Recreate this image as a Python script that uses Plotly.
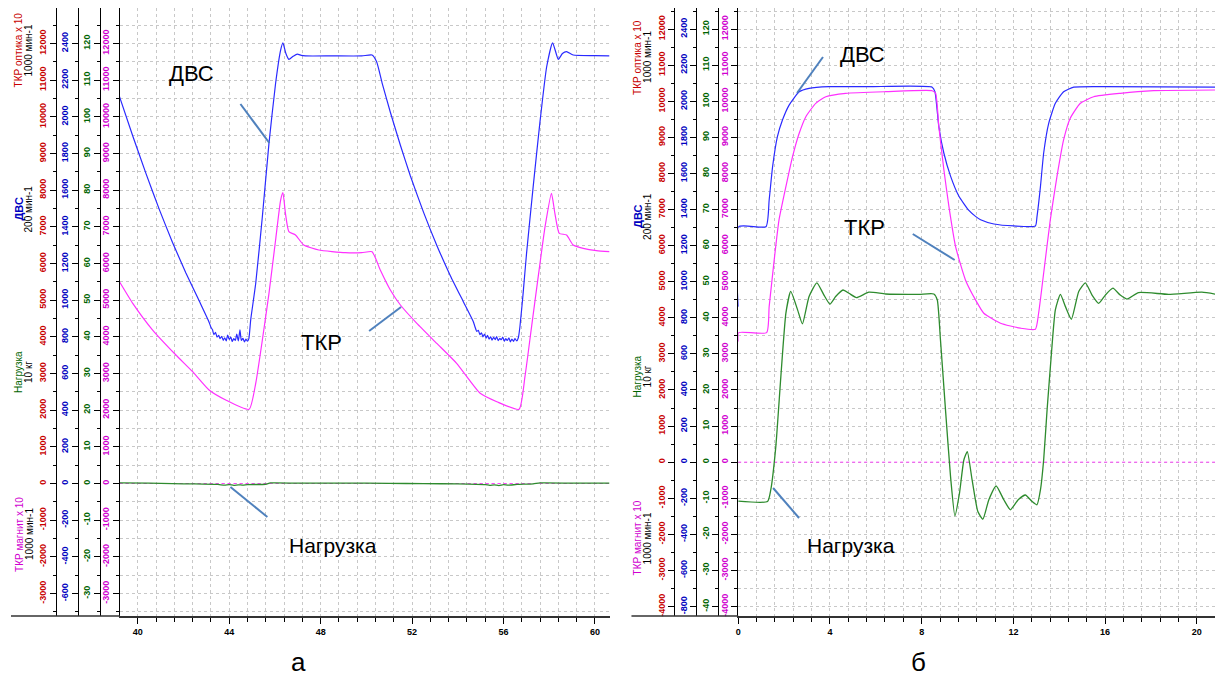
import plotly.graph_objects as go

# ---------------- data: panel "а" (time, s) ----------------
a_dvs_t = [39.2, 39.78, 40.36, 40.94, 41.52, 42.1, 42.69, 43.12, 43.2, 43.27, 43.33, 43.4, 43.47, 43.54,
           43.6, 43.67, 43.74, 43.8, 43.87, 43.93, 44.0, 44.07, 44.13, 44.2, 44.27, 44.33, 44.4, 44.47,
           44.53, 44.6, 44.67, 44.73, 44.8, 44.86, 44.94, 45.16, 45.45, 45.74, 46.03, 46.25, 46.35, 46.48,
           46.61, 46.8, 46.98, 47.15, 47.34, 48.5, 49.8, 50.25, 50.45, 50.7, 51.05, 51.49, 51.92, 52.5,
           53.08, 53.67, 54.25, 54.69, 54.76, 54.83, 54.9, 54.97, 55.04, 55.1, 55.17, 55.24, 55.3, 55.37,
           55.44, 55.5, 55.57, 55.64, 55.7, 55.77, 55.84, 55.9, 55.97, 56.04, 56.1, 56.17, 56.24, 56.3,
           56.37, 56.44, 56.5, 56.58, 56.65, 56.72, 56.86, 57.01, 57.3, 57.59, 57.89, 58.15, 58.4, 58.58,
           58.76, 59.05, 60.0, 60.64]
a_dvs_v = [2110, 1895, 1690, 1495, 1315, 1150, 995, 880, 852, 838, 812, 825, 798, 808,
           790, 803, 781, 795, 778, 810, 786, 799, 775, 790, 781, 815, 778, 838,
           780, 792, 772, 787, 776, 790, 892, 1092, 1455, 1855, 2183, 2364, 2404, 2345,
           2313, 2330, 2342, 2335, 2332, 2332, 2332, 2337, 2300, 2180, 2025, 1845, 1680, 1480,
           1300, 1135, 990, 880, 852, 830, 835, 812, 822, 800, 815, 793, 808, 788,
           800, 782, 797, 785, 801, 779, 792, 784, 798, 776, 790, 780, 795, 772,
           788, 775, 790, 778, 795, 855, 1037, 1255, 1619, 1964, 2273, 2404, 2313, 2345,
           2355, 2337, 2334, 2332]

a_tkr_t = [39.2, 39.78, 40.65, 41.67, 42.4, 43.12, 43.85, 44.87, 45.16, 45.45, 45.74, 46.03, 46.25,
           46.35, 46.46, 46.61, 46.9, 47.26, 47.92, 49.08, 49.8, 50.25, 50.61, 51.05, 51.49, 52.21,
           53.08, 53.95, 54.98, 55.71, 56.68, 56.94, 57.23, 57.52, 57.82, 58.1, 58.25, 58.44, 58.76,
           59.05, 59.49, 60.07, 60.64]
a_tkr_v = [5503, 4914, 4186, 3504, 3049, 2550, 2277, 2023, 2732, 3913, 5187, 6640, 7731,
           7930, 7368, 6867, 6777, 6504, 6368, 6294, 6294, 6322, 5822, 5277, 4868, 4368,
           3823, 3278, 2460, 2231, 2023, 2913, 4276, 5640, 7003, 7913, 7368, 6823, 6777,
           6504, 6413, 6349, 6322]

a_load_t = [39.2, 40.5, 41.5, 42.5, 43.5, 43.8, 44.0, 44.2, 44.4, 44.6, 44.8, 45.6, 45.8, 47.0, 49.0,
            51.0, 52.5, 54.0, 55.2, 55.4, 55.6, 55.8, 56.0, 56.2, 56.6, 57.3, 57.6, 59.0, 60.64]
a_load_v = [0.15, 0.1, -0.05, -0.1, -0.25, -0.45, -0.3, -0.5, -0.35, -0.45, -0.3, -0.2, 0.15, 0.1, 0.1,
            0.05, -0.05, -0.1, -0.3, -0.5, -0.35, -0.55, -0.3, -0.45, -0.25, -0.1, 0.15, 0.1, 0.1]

a_mag_t = [39.2, 60.64]
a_mag_v = [0, 0]

# ---------------- data: panel "б" (time, s) ----------------
b_dvs_t = [0.0, 0.02, 1.21, 1.35, 1.5, 1.71, 1.93, 2.22, 2.66, 3.09, 3.96, 5.7, 8.46, 8.58, 8.75, 8.97,
           9.26, 9.62, 10.06, 10.35, 10.57, 11.15, 12.02, 12.96, 13.03, 13.18, 13.32, 13.54, 13.83,
           14.19, 14.63, 15.93, 20.87]
b_dvs_v = [862, 1305, 1305, 1453, 1638, 1804, 1896, 1979, 2053, 2072, 2081, 2081, 2078, 2053, 1859, 1712,
           1585, 1475, 1395, 1362, 1343, 1320, 1309, 1309, 1361, 1527, 1712, 1878, 1989,
           2053, 2078, 2081, 2078]

b_tkr_t = [0.0, 0.02, 1.24, 1.35, 1.57, 1.78, 2.08, 2.37, 2.66, 2.95, 3.38, 3.82, 4.69, 6.43, 8.46,
           8.61, 8.75, 8.97, 9.19, 9.48, 9.91, 10.35, 10.71, 11.44, 12.31, 12.96, 13.1, 13.32, 13.61,
           13.9, 14.19, 14.48, 14.92, 15.5, 16.66, 18.11, 20.87]
b_tkr_v = [3341, 3590, 3590, 4310, 5604, 6712, 7634, 8465, 9113, 9573, 9944, 10127, 10221, 10265, 10293,
           10221, 9296, 8097, 7080, 5972, 5050, 4496, 4127, 3850, 3712, 3684, 4127, 5235, 6712,
           7911, 8928, 9529, 9944, 10127, 10221, 10293, 10313]

b_load_t = [0.0, 1.28, 1.42, 1.64, 1.86, 2.08, 2.29, 2.59, 2.8, 3.09, 3.43, 3.74, 4.0, 4.25, 4.57,
            4.83, 5.16, 5.7, 6.43, 7.88, 8.53, 8.68, 8.82, 9.04, 9.26, 9.45, 9.65, 9.84, 9.99,
            10.2, 10.45, 10.67, 10.93, 11.25, 11.58, 11.87, 12.21, 12.52, 12.82, 13.03, 13.18, 13.32,
            13.47, 13.66, 13.83, 14.05, 14.27, 14.53, 14.85, 15.14, 15.43, 15.72, 16.01, 16.34, 16.66,
            16.95, 17.46, 18.76, 20.22, 20.87]
b_load_v = [-10.8, -10.9, -7.7, 4.3, 23.7, 41.3, 47.3, 42.2, 38.3, 45.9, 49.7, 46.3, 43.8, 45.9, 47.7,
            46.8, 45.6, 47.1, 46.6, 46.5, 46.6, 45.0, 33.9, 14.5, -4.0, -14.9, -8.6, 0.6, 2.9,
            -4.9, -13.7, -15.8, -10.4, -6.6, -10.4, -13.2, -10.4, -9.1, -10.9, -11.8, -7.7, 0.6,
            14.5, 30.2, 42.2, 46.5, 43.1, 39.6, 47.3, 49.7, 46.3, 44.0, 46.3, 48.2, 46.3,
            45.2, 47.0, 46.5, 47.1, 46.5]

b_mag_t = [0.0, 20.87]
b_mag_v = [0, 0]

# ---------------- tick values ----------------
a_red_ticks = list(range(-3000, 13001, 1000))
a_blue_ticks = list(range(-600, 2601, 200))
a_green_ticks = list(range(-30, 131, 10))
b_red_ticks = list(range(-4000, 12001, 1000))
b_blue_ticks = list(range(-800, 2401, 200))
b_green_ticks = list(range(-40, 121, 10))

x_ticks_a = [40, 44, 48, 52, 56, 60]
x_ticks_b = [0, 4, 8, 12, 16, 20]

# ---------------- layout helpers (screen pixels -> paper) ----------------
OFF = 8                      # default page body margin
W, H = 1223 - OFF, 682 - OFF
PLOT_BOTTOM = 616 - OFF      # plot bottom in figure pixels
MT, MB = 0, H - PLOT_BOTTOM
PH = H - MT - MB


def px(x):
    return (x - OFF) / W


def py(y):
    return (PLOT_BOTTOM - (y - OFF)) / PH


RED = "#c80000"
BLUE = "#0000c0"
GREEN = "#006400"
MAG = "#d000d0"
FONT = "Liberation Sans, Arial, sans-serif"
GRID = "#c8c8c8"

RA = [-3613, 12967]
RB = [-4263, 12585]


def yax(color, rng, vals, scale, grid=False, **kw):
    d = dict(
        range=[rng[0] * scale, rng[1] * scale],
        tickmode="array", tickvals=vals, ticktext=[str(v) for v in vals],
        tickangle=-90,
        tickfont=dict(family=FONT, size=9, color=color, weight="bold"),
        ticks="outside", ticklen=6, tickcolor="black", tickwidth=1,
        showline=True, linecolor="black", linewidth=1,
        zeroline=False, showgrid=grid, gridcolor=GRID, griddash="dot", gridwidth=1,
        minor=dict(dtick=500 * scale, tick0=0, ticks="outside", ticklen=3, tickcolor="black",
                   showgrid=grid, gridcolor=GRID, griddash="dot", gridwidth=1),
        fixedrange=True,
    )
    d.update(kw)
    return d


def xax(rng, dom, vals, anchor):
    return dict(
        domain=dom, range=rng, anchor=anchor,
        tickmode="array", tickvals=vals, ticktext=[str(v) for v in vals],
        tickfont=dict(family=FONT, size=9, color="black", weight="bold"),
        ticks="outside", ticklen=6, tickcolor="black",
        showline=True, linecolor="#333333", linewidth=1.5,
        zeroline=False, showgrid=True, gridcolor=GRID, griddash="dot", gridwidth=1,
        minor=dict(dtick=0.8, tick0=0, ticks="outside", ticklen=4, tickcolor="black",
                   showgrid=True, gridcolor=GRID, griddash="dot", gridwidth=1),
        fixedrange=True,
    )


fig = go.Figure()


def line(t, v, color, xa, ya, width=1.2, dash=None, smooth=True):
    fig.add_trace(go.Scatter(x=t, y=v, mode="lines", xaxis=xa, yaxis=ya, showlegend=False,
                             hoverinfo="skip",
                             line=dict(color=color, width=width, dash=dash,
                                       shape="spline" if smooth else "linear",
                                       smoothing=0.5 if smooth else None)))


# panel a
line(a_mag_t, a_mag_v, "#ff40ff", "x", "y", 1, "dot", False)
line(a_load_t, a_load_v, "#2e8b2e", "x", "y2", 1.3)
line(a_tkr_t, a_tkr_v, "#ff30ff", "x", "y4", 1.2)
line(a_dvs_t, a_dvs_v, "#2a2aff", "x", "y3", 1.2)
# panel b
line(b_mag_t, b_mag_v, "#ff40ff", "x2", "y5", 1, "dot", False)
line(b_load_t, b_load_v, "#2e8b2e", "x2", "y6", 1.3)
line(b_tkr_t, b_tkr_v, "#ff30ff", "x2", "y8", 1.2)
line(b_dvs_t, b_dvs_v, "#2a2aff", "x2", "y7", 1.2)

fig.update_layout(
    width=W, height=H,
    margin=dict(l=0, r=0, t=MT, b=MB, pad=0),
    paper_bgcolor="white", plot_bgcolor="white",
    font=dict(family=FONT),
    xaxis=xax([39.21, 60.64], [px(117), px(608)], x_ticks_a, "y"),
    xaxis2=xax([0, 20.88], [px(737), px(1217)], x_ticks_b, "y5"),
    yaxis=yax(MAG, RA, a_red_ticks, 1, grid=True, anchor="x"),
    yaxis2=yax(GREEN, RA, a_green_ticks, 0.01, overlaying="y", anchor="free", position=px(97), side="left"),
    yaxis3=yax(BLUE, RA, a_blue_ticks, 0.2, overlaying="y", anchor="free", position=px(75), side="left"),
    yaxis4=yax(RED, RA, a_red_ticks, 1, overlaying="y", anchor="free", position=px(53), side="left"),
    yaxis5=yax(MAG, RB, b_red_ticks, 1, grid=True, anchor="x2"),
    yaxis6=yax(GREEN, RB, b_green_ticks, 0.01, overlaying="y5", anchor="free", position=px(717), side="left"),
    yaxis7=yax(BLUE, RB, b_blue_ticks, 0.2, overlaying="y5", anchor="free", position=px(695), side="left"),
    yaxis8=yax(RED, RB, b_red_ticks, 1, overlaying="y5", anchor="free", position=px(673), side="left"),
)

ann = []


def txt(x, y, s, size, color="black", angle=0, bold=False):
    ann.append(dict(x=px(x), y=py(y), xref="paper", yref="paper", text=s, showarrow=False,
                    textangle=angle, xanchor="center", yanchor="middle",
                    font=dict(family=FONT, size=size, color=color, weight="bold" if bold else "normal")))


# axis titles (rotated)
for x0, ys in [(0, (50, 209, 372, 534)), (620, (57, 216, 376, 538))]:
    txt(x0 + 16.5, ys[0], "ТКР оптика x 10", 10, RED, -90)
    txt(x0 + 26.5, ys[0], "1000 мин-1", 10, "black", -90)
    txt(x0 + 16.5, ys[1], "ДВС", 11, BLUE, -90, True)
    txt(x0 + 26.5, ys[1], "200 мин-1", 10, "black", -90)
    txt(x0 + 16, ys[2], "Нагрузка", 10, GREEN, -90)
    txt(x0 + 26, ys[2], "10 кг", 10, "black", -90)
    txt(x0 + 16, ys[3], "ТКР магнит x 10", 10, MAG, -90)
    txt(x0 + 26, ys[3], "1000 мин-1", 10, "black", -90)

# series labels
txt(189, 73, "ДВС", 22)
txt(319, 342, "ТКР", 22)
txt(331, 545, "Нагрузка", 21)
txt(862, 55, "ДВС", 22)
txt(864, 228, "ТКР", 22)
txt(850, 545, "Нагрузка", 21)
# panel letters
txt(296, 662, "а", 26)
txt(918, 662, "б", 26)

fig.update_layout(annotations=ann)

shapes = []


def seg(x0, y0, x1, y1, color="#4f81bd", width=2):
    shapes.append(dict(type="line", xref="paper", yref="paper", x0=px(x0), y0=py(y0),
                       x1=px(x1), y1=py(y1), line=dict(color=color, width=width)))


# pointer lines
seg(238, 104, 267, 143)
seg(367, 331, 399, 307)
seg(228, 487, 265, 517)
seg(822, 57, 796, 93)
seg(912, 234, 954, 260)
seg(772, 488, 798, 518)
# x-axis baseline extension under the y-axes
seg(8, 616, 117, 616, "#333333", 1.5)
seg(630, 616, 737, 616, "#333333", 1.5)

fig.update_layout(shapes=shapes)

fig.write_html("out.html")
